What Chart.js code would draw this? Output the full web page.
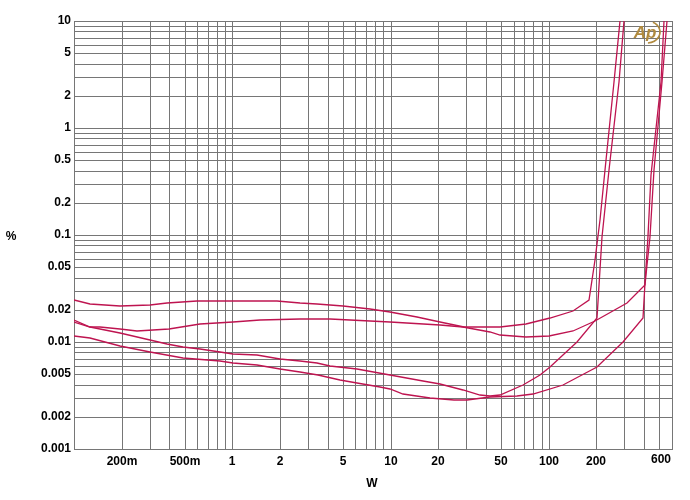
<html>
<head>
<meta charset="UTF-8"/>
<style>
html, body {
 width: 100%;
 height: 100%;
 margin: 0px;
 border: 0;
 overflow: hidden;
 background-color: #ffffff;
}
</style>
<script src="https://cdn.jsdelivr.net/npm/chart.js@4.4.1/dist/chart.umd.min.js"></script>
<script type="text/javascript">
// power in W and THD+N in %
var aW   = [0.1, 0.126, 0.195, 0.302, 0.387, 0.598, 0.97, 1.92, 2.68, 3.43, 5.0, 7.41, 9.91, 14.7, 20.5, 29, 49, 72, 101.6, 141.9, 179, 195.5, 210, 226, 259, 282];
var aPct = [0.0247, 0.0226, 0.0217, 0.0222, 0.0231, 0.0242, 0.0244, 0.0240, 0.0231, 0.0226, 0.0217, 0.0203, 0.0191, 0.0171, 0.0154, 0.0137, 0.0137, 0.0147, 0.0167, 0.0195, 0.0247, 0.0584, 0.138, 0.405, 2.71, 10];

var bW   = [0.1, 0.126, 0.146, 0.195, 0.25, 0.40, 0.625, 1.01, 1.5, 2.68, 4.14, 9.91, 20.5, 28.7, 42.5, 49, 72, 100, 142, 195.5, 311, 404.6, 418.6, 435.5, 461, 518, 560];
var bPct = [0.0159, 0.0139, 0.0138, 0.0132, 0.0126, 0.0132, 0.0147, 0.0154, 0.0161, 0.0164, 0.0164, 0.0155, 0.0144, 0.0139, 0.0124, 0.0117, 0.0111, 0.0113, 0.0126, 0.0158, 0.0231, 0.0341, 0.0525, 0.0964, 0.405, 2.71, 10];

var cW   = [0.1, 0.126, 0.195, 0.302, 0.387, 0.488, 0.625, 0.836, 1.01, 1.43, 2.0, 2.68, 3.43, 4.14, 6.13, 9.91, 16.0, 20.5, 28.7, 36.7, 42.5, 49.1, 68.6, 87.9, 101.6, 150.6, 201, 216, 240, 277, 299];
var cPct = [0.0154, 0.0139, 0.0121, 0.01045, 0.00957, 0.00904, 0.00861, 0.00812, 0.00773, 0.00757, 0.00694, 0.00665, 0.00637, 0.00597, 0.0056, 0.00492, 0.00435, 0.00405, 0.00356, 0.0032, 0.00312, 0.0032, 0.00396, 0.00492, 0.00588, 0.0101, 0.0168, 0.0964, 0.405, 2.71, 10];

var dW   = [0.1, 0.126, 0.195, 0.302, 0.488, 0.836, 1.01, 1.43, 2.0, 2.68, 3.5, 4.8, 6.1, 8.6, 9.9, 12, 17.7, 25, 30.4, 42.5, 62.8, 79.4, 122.7, 201, 294, 394.5, 404.6, 426, 441.6, 508, 536];
var dPct = [0.0114, 0.0109, 0.00918, 0.00812, 0.00714, 0.00669, 0.00641, 0.0061, 0.00555, 0.0053, 0.0049, 0.0044, 0.0041, 0.0038, 0.0036, 0.0033, 0.0030, 0.00288, 0.00287, 0.00308, 0.00313, 0.00327, 0.00396, 0.00588, 0.0101, 0.0168, 0.0356, 0.098, 0.364, 2.71, 10];

var xTickVals = [0.2, 0.5, 1, 2, 5, 10, 20, 50, 100, 200, 600];
var xTickText = ['200m', '500m', '1', '2', '5', '10', '20', '50', '100', '200', '600'];
var yTickVals = [0.001, 0.002, 0.005, 0.01, 0.02, 0.05, 0.1, 0.2, 0.5, 1, 2, 5, 10];
var yTickText = ['0.001', '0.002', '0.005', '0.01', '0.02', '0.05', '0.1', '0.2', '0.5', '1', '2', '5', '10'];

var LINE = '#BE1450';
var GRID = '#767676';
var FONT = {family: '"Liberation Sans", Arial, sans-serif', size: 12, weight: 'bold'};

function zip(xs, ys) {
    var out = [];
    for (var i = 0; i < xs.length; i++) out.push({x: xs[i], y: ys[i]});
    return out;
}

// 1..9 x 10^n grid positions between lo and hi
function gridValues(lo, hi) {
    var out = [];
    for (var e = -4; e <= 3; e++) {
        for (var m = 1; m <= 9; m++) {
            var v = parseFloat((m * Math.pow(10, e)).toPrecision(3));
            if (v >= lo * 0.999 && v <= hi * 1.001) out.push({value: v});
        }
    }
    if (out[out.length - 1].value < hi) out.push({value: hi});
    return out;
}

function labelFor(vals, texts, v) {
    for (var i = 0; i < vals.length; i++) {
        if (Math.abs(vals[i] - v) / vals[i] < 1e-6) return texts[i];
    }
    return '';
}

var extras = {
    id: 'extras',
    beforeDraw: function(chart) {
        var ctx = chart.ctx;
        ctx.save();
        ctx.fillStyle = '#ffffff';
        ctx.fillRect(0, 0, chart.width, chart.height);
        ctx.restore();
    },
    afterDatasetsDraw: function(chart) {
        var ctx = chart.ctx;
        var xs = chart.scales.x;
        ctx.save();
        ctx.fillStyle = '#000000';
        ctx.font = 'bold 12px "Liberation Sans", Arial, sans-serif';
        ctx.textBaseline = 'middle';
        // last x label sits flush with the right edge
        ctx.textAlign = 'right';
        ctx.fillText('600', xs.getPixelForValue(600) - 1, 460);
        ctx.textAlign = 'center';
        ctx.fillText('%', 11, 237);
        ctx.fillText('W', 372, 484);

        // AP logo
        ctx.fillStyle = '#B08A3E';
        ctx.strokeStyle = '#B08A3E';
        ctx.font = 'italic bold 17px "Liberation Sans", Arial, sans-serif';
        ctx.fillText('Ap', 645, 33);
        ctx.lineWidth = 1.6;
        ctx.beginPath();
        ctx.ellipse(647, 32, 13, 11, 0, -1.1, 1.5);
        ctx.stroke();
        ctx.restore();
    }
};

function init() {
    var ctx = document.getElementById('myChart').getContext('2d');
    var sets = [[aW, aPct], [bW, bPct], [cW, cPct], [dW, dPct]];
    var datasets = sets.map(function(s) {
        return {
            data: zip(s[0], s[1]),
            borderColor: LINE,
            borderWidth: 1.3,
            pointRadius: 0,
            showLine: true,
            tension: 0,
            fill: false
        };
    });

    new Chart(ctx, {
        type: 'scatter',
        data: {datasets: datasets},
        plugins: [extras],
        options: {
            responsive: false,
            animation: false,
            layout: {padding: {top: 21, right: 18, left: 0, bottom: 0}},
            plugins: {
                legend: {display: false},
                tooltip: {enabled: false}
            },
            scales: {
                x: {
                    type: 'logarithmic',
                    min: 0.1,
                    max: 600,
                    alignToPixels: true,
                    afterBuildTicks: function(scale) { scale.ticks = gridValues(0.1, 600); },
                    afterFit: function(scale) { scale.height = 51; },
                    grid: {color: GRID, lineWidth: 1, drawTicks: false},
                    border: {color: GRID, width: 1},
                    ticks: {
                        autoSkip: false,
                        maxRotation: 0,
                        padding: 5,
                        color: '#000000',
                        font: FONT,
                        callback: function(v) {
                            if (v >= 600) return '';
                            return labelFor(xTickVals, xTickText, v);
                        }
                    }
                },
                y: {
                    type: 'logarithmic',
                    min: 0.001,
                    max: 10,
                    alignToPixels: true,
                    afterBuildTicks: function(scale) { scale.ticks = gridValues(0.001, 10); },
                    afterFit: function(scale) { scale.width = 74; },
                    grid: {color: GRID, lineWidth: 1, drawTicks: false},
                    border: {color: GRID, width: 1},
                    ticks: {
                        autoSkip: false,
                        padding: 3,
                        color: '#000000',
                        font: FONT,
                        callback: function(v) { return labelFor(yTickVals, yTickText, v); }
                    }
                }
            }
        }
    });
}
</script>
<title>THD+N vs power</title>
</head>
<body onload="JavaScript:init();">
<canvas id="myChart" width="690" height="500"></canvas>
</body>
</html>
